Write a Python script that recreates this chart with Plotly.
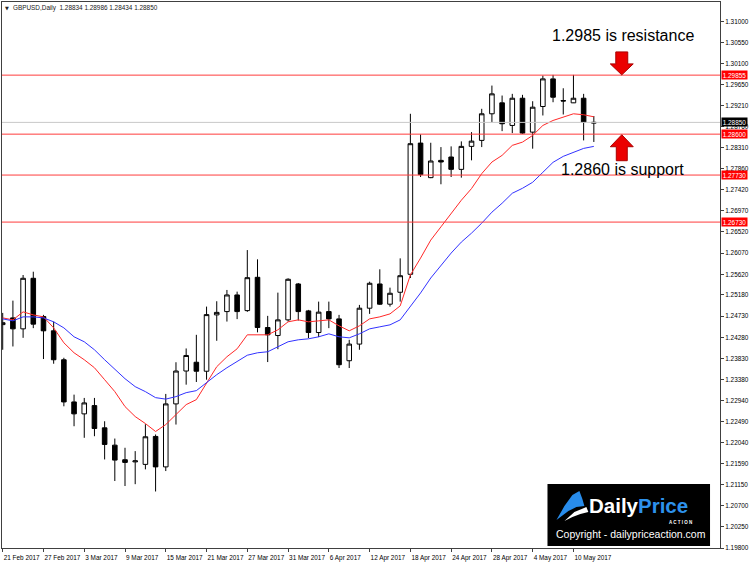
import plotly.graph_objects as go

# ---------------- data ----------------
dates = [
    "2017-02-21", "2017-02-22", "2017-02-23", "2017-02-24", "2017-02-27", "2017-02-28",
    "2017-03-01", "2017-03-02", "2017-03-03", "2017-03-06", "2017-03-07", "2017-03-08",
    "2017-03-09", "2017-03-10", "2017-03-13", "2017-03-14", "2017-03-15", "2017-03-16",
    "2017-03-17", "2017-03-20", "2017-03-21", "2017-03-22", "2017-03-23", "2017-03-24",
    "2017-03-27", "2017-03-28", "2017-03-29", "2017-03-30", "2017-03-31", "2017-04-03",
    "2017-04-04", "2017-04-05", "2017-04-06", "2017-04-07", "2017-04-10", "2017-04-11",
    "2017-04-12", "2017-04-13", "2017-04-14", "2017-04-17", "2017-04-18", "2017-04-19",
    "2017-04-20", "2017-04-21", "2017-04-24", "2017-04-25", "2017-04-26", "2017-04-27",
    "2017-04-28", "2017-05-01", "2017-05-02", "2017-05-03", "2017-05-04", "2017-05-05",
    "2017-05-08", "2017-05-09", "2017-05-10", "2017-05-11", "2017-05-12",
]

opens = [
    1.24550, 1.24693, 1.24460, 1.25535, 1.24721, 1.24418, 1.23803, 1.22906, 1.22652, 1.22828,
    1.22355, 1.21987, 1.21677, 1.21631, 1.21578, 1.22172, 1.21525, 1.22864, 1.23563, 1.23750,
    1.23559, 1.24757, 1.24827, 1.25181, 1.24848, 1.25556, 1.24488, 1.24318, 1.24651, 1.25414,
    1.24842, 1.24382, 1.24827, 1.24672, 1.23782, 1.24136, 1.24899, 1.25414, 1.24984, 1.25238,
    1.25620, 1.28410, 1.27675, 1.28042, 1.28114, 1.27851, 1.28340, 1.28467, 1.29033, 1.29266,
    1.28785, 1.29364, 1.28643, 1.29188, 1.29775, 1.29315, 1.29266, 1.29364, 1.28834,
]
highs = [
    1.24799, 1.25060, 1.25605, 1.25675, 1.24757, 1.24615, 1.23845, 1.23061, 1.22991, 1.22991,
    1.22495, 1.22127, 1.21931, 1.21860, 1.22432, 1.22214, 1.23076, 1.23750, 1.24043, 1.24333,
    1.24933, 1.25047, 1.25287, 1.25251, 1.26135, 1.25938, 1.24736, 1.25230, 1.25535, 1.25435,
    1.24863, 1.25039, 1.25039, 1.24757, 1.24227, 1.24969, 1.25463, 1.25726, 1.25336, 1.25959,
    1.29033, 1.28594, 1.28417, 1.28325, 1.28340, 1.28446, 1.28643, 1.29139, 1.29633, 1.29421,
    1.29457, 1.29436, 1.29300, 1.29845, 1.29860, 1.29576, 1.29860, 1.29457, 1.28986,
]
lows = [
    1.24015, 1.24085, 1.24269, 1.24475, 1.23818, 1.23718, 1.22813, 1.22389, 1.22143, 1.22177,
    1.21683, 1.21224, 1.21118, 1.21157, 1.21472, 1.21002, 1.21436, 1.22425, 1.23273, 1.23330,
    1.23379, 1.24206, 1.24615, 1.24667, 1.24821, 1.24385, 1.23754, 1.24027, 1.24615, 1.24636,
    1.24263, 1.24284, 1.24475, 1.23627, 1.23627, 1.24015, 1.24778, 1.24969, 1.24933, 1.25039,
    1.25541, 1.27689, 1.27664, 1.27534, 1.27689, 1.27675, 1.28043, 1.28325, 1.28855, 1.28664,
    1.28622, 1.28605, 1.28291, 1.28997, 1.29279, 1.29018, 1.29262, 1.28467, 1.28434,
]
closes = [
    1.24590, 1.24460, 1.25535, 1.24560, 1.24418, 1.23803, 1.22906, 1.22652, 1.22885, 1.22341,
    1.22002, 1.21669, 1.21620, 1.21652, 1.22165, 1.21525, 1.22864, 1.23563, 1.23894, 1.23559,
    1.24763, 1.24810, 1.25181, 1.24827, 1.25548, 1.24488, 1.24333, 1.24651, 1.25514, 1.24827,
    1.24382, 1.24815, 1.24672, 1.23697, 1.24136, 1.24899, 1.25429, 1.24984, 1.25217, 1.25590,
    1.28397, 1.27740, 1.28029, 1.28008, 1.27851, 1.28340, 1.28452, 1.29033, 1.29457, 1.28821,
    1.29364, 1.28622, 1.29173, 1.29775, 1.29385, 1.29305, 1.29364, 1.28855, 1.28850,
]

# red (fast) and blue (slow) moving averages
ma_fast = [
    1.24693, 1.24651, 1.24821, 1.24757, 1.24715, 1.24481, 1.24163, 1.23951, 1.23803, 1.23633,
    1.23379, 1.23125, 1.22807, 1.22595, 1.22446, 1.22277, 1.22425, 1.22637, 1.22849, 1.22955,
    1.23315, 1.23655, 1.23867, 1.24036, 1.24333, 1.24333, 1.24333, 1.24439, 1.24609, 1.24651,
    1.24609, 1.24630, 1.24651, 1.24524, 1.24418, 1.24524, 1.24672, 1.24715, 1.24778, 1.24948,
    1.25605, 1.25965, 1.26347, 1.26629, 1.26913, 1.27195, 1.27443, 1.27761, 1.28007, 1.28149,
    1.28361, 1.28431, 1.28573, 1.28785, 1.28891, 1.28961, 1.29033, 1.29012, 1.28969,
]
ma_slow = [
    1.24672, 1.24630, 1.24715, 1.24715, 1.24693, 1.24609, 1.24481, 1.24291, 1.24185, 1.24015,
    1.23803, 1.23591, 1.23400, 1.23231, 1.23125, 1.22997, 1.22966, 1.23019, 1.23103, 1.23146,
    1.23315, 1.23485, 1.23633, 1.23761, 1.23899, 1.23951, 1.23973, 1.24079, 1.24185, 1.24227,
    1.24248, 1.24291, 1.24354, 1.24291, 1.24269, 1.24354, 1.24460, 1.24503, 1.24545, 1.24651,
    1.24927, 1.25223, 1.25541, 1.25817, 1.26071, 1.26305, 1.26495, 1.26707, 1.26941, 1.27131,
    1.27343, 1.27449, 1.27577, 1.27789, 1.28001, 1.28128, 1.28213, 1.28297, 1.28340,
]

tick_dates = ["2017-02-21", "2017-02-27", "2017-03-03", "2017-03-09", "2017-03-15",
              "2017-03-21", "2017-03-27", "2017-03-31", "2017-04-06", "2017-04-12",
              "2017-04-18", "2017-04-24", "2017-04-28", "2017-05-04", "2017-05-10"]
tick_labels = ["21 Feb 2017", "27 Feb 2017", "3 Mar 2017", "9 Mar 2017", "15 Mar 2017",
               "21 Mar 2017", "27 Mar 2017", "31 Mar 2017", "6 Apr 2017", "12 Apr 2017",
               "18 Apr 2017", "24 Apr 2017", "28 Apr 2017", "4 May 2017", "10 May 2017"]

y_ticks = [1.31000, 1.30550, 1.30100, 1.29650, 1.29210, 1.28760, 1.28310, 1.27860, 1.27420,
           1.26970, 1.26520, 1.26070, 1.25620, 1.25180, 1.24730, 1.24280, 1.23830, 1.23380,
           1.22940, 1.22490, 1.22040, 1.21590, 1.21150, 1.20700, 1.20250, 1.19800]

red_levels = [1.29855, 1.28600, 1.27730, 1.26730]
last_price = 1.28850

symbol = "GBPUSD,Daily"
resistance_text = "1.2985 is resistance"
support_text = "1.2860 is support"

# ---------------- figure ----------------
W, H = 750, 564
ML, MR, MT, MB = 2, 28, 1, 16
PW, PH = W - ML - MR, H - MT - MB


def px(x):  # pixel -> paper x
    return (x - ML) / PW


def py(y):  # pixel -> paper y
    return (H - MB - y) / PH


FONT = "Liberation Sans, Arial, sans-serif"

fig = go.Figure()

fig.add_trace(go.Candlestick(
    x=dates, open=opens, high=highs, low=lows, close=closes,
    increasing=dict(line=dict(color="black", width=1), fillcolor="white"),
    decreasing=dict(line=dict(color="black", width=1), fillcolor="black"),
    whiskerwidth=0, hoverinfo="skip", showlegend=False,
))
fig.add_trace(go.Scatter(x=dates, y=ma_fast, mode="lines",
                         line=dict(color="rgb(255,40,40)", width=1),
                         hoverinfo="skip", showlegend=False))
fig.add_trace(go.Scatter(x=dates, y=ma_slow, mode="lines",
                         line=dict(color="rgb(50,50,255)", width=1),
                         hoverinfo="skip", showlegend=False))

shapes = []
# current price line (grey)
shapes.append(dict(type="line", xref="paper", x0=0, x1=1, yref="y", y0=last_price, y1=last_price,
                   line=dict(color="#c8c8c8", width=1)))
for lv in red_levels:
    shapes.append(dict(type="line", xref="paper", x0=0, x1=1, yref="y", y0=lv, y1=lv,
                       line=dict(color="rgb(255,60,60)", width=1)))


def path(points):
    return "M " + " L ".join(f"{px(a):.5f},{py(b):.5f}" for a, b in points) + " Z"


cx = 623.5
# down arrow (above resistance)
down = [(cx - 6, 51), (cx + 6, 51), (cx + 6, 63), (cx + 11.5, 63), (cx, 74),
        (cx - 11.5, 63), (cx - 6, 63)]
# up arrow (below support)
up = [(cx, 134), (cx + 11.5, 146), (cx + 5.5, 146), (cx + 5.5, 160), (cx - 5.5, 160),
      (cx - 5.5, 146), (cx - 11.5, 146)]
for pts in (down, up):
    shapes.append(dict(type="path", xref="paper", yref="paper", path=path(pts),
                       fillcolor="rgb(235,0,0)", line=dict(color="rgb(170,0,0)", width=1)))

# logo box
shapes.append(dict(type="rect", xref="paper", yref="paper",
                   x0=px(549), x1=px(712), y0=py(546), y1=py(484),
                   fillcolor="black", line=dict(width=0)))
# logo swoosh
sail = [(558, 520), (566, 506), (574, 495), (581, 491), (584, 499), (586, 506), (578, 507),
        (570, 511)]
shapes.append(dict(type="path", xref="paper", yref="paper", path=path(sail),
                   fillcolor="rgb(40,140,235)", line=dict(width=0)))
wave = [(566, 521), (576, 512), (588, 507), (590, 512), (582, 514), (574, 517)]
shapes.append(dict(type="path", xref="paper", yref="paper", path=path(wave),
                   fillcolor="white", line=dict(width=0)))

annotations = []
# price labels on the right axis
for lv in red_levels:
    annotations.append(dict(xref="paper", x=1, xanchor="left", xshift=1, yref="y", y=lv,
                            text=f"{lv:.5f}", showarrow=False, bgcolor="rgb(255,0,0)",
                            borderpad=0, width=25, height=8,
                            font=dict(family=FONT, size=6.4, color="white")))
annotations.append(dict(xref="paper", x=1, xanchor="left", xshift=1, yref="y", y=last_price,
                        text=f"{last_price:.5f}", showarrow=False, bgcolor="black",
                        borderpad=0, width=25, height=8,
                        font=dict(family=FONT, size=6.4, color="white")))

# header
annotations.append(dict(xref="paper", yref="paper", x=px(3), y=py(7), xanchor="left",
                        yanchor="middle", showarrow=False, text="▼",
                        font=dict(family="DejaVu Sans", size=5, color="#202020")))
annotations.append(dict(xref="paper", yref="paper", x=px(11), y=py(7), xanchor="left",
                        yanchor="middle", showarrow=False,
                        text=f"{symbol}  {opens[-1]:.5f} {highs[-1]:.5f} {lows[-1]:.5f} {closes[-1]:.5f}",
                        font=dict(family=FONT, size=6.4, color="#202020")))

# comments
annotations.append(dict(xref="paper", yref="paper", x=px(552), y=py(35), xanchor="left",
                        yanchor="middle", showarrow=False, text=resistance_text,
                        font=dict(family=FONT, size=16, color="black")))
annotations.append(dict(xref="paper", yref="paper", x=px(561), y=py(169), xanchor="left",
                        yanchor="middle", showarrow=False, text=support_text,
                        font=dict(family=FONT, size=16, color="black")))

# logo texts
annotations.append(dict(xref="paper", yref="paper", x=px(589), y=py(505), xanchor="left",
                        yanchor="middle", showarrow=False,
                        text="<b>Daily<span style='color:rgb(45,145,235)'>Price</span></b>",
                        font=dict(family=FONT, size=20.5, color="white")))
annotations.append(dict(xref="paper", yref="paper", x=px(696), y=py(522), xanchor="right",
                        yanchor="middle", showarrow=False, text="<b>A C T I O N</b>",
                        font=dict(family=FONT, size=4.5, color="white")))
annotations.append(dict(xref="paper", yref="paper", x=px(556), y=py(534), xanchor="left",
                        yanchor="middle", showarrow=False,
                        text="Copyright - dailypriceaction.com",
                        font=dict(family=FONT, size=10.5, color="white")))

bar_px = 10.22
x_lo = -0.07
x_hi = x_lo + PW / bar_px

fig.update_layout(
    width=W, height=H,
    margin=dict(l=ML, r=MR, t=MT, b=MB, pad=0),
    paper_bgcolor="white", plot_bgcolor="white",
    showlegend=False, boxgap=0.36,
    shapes=shapes, annotations=annotations,
    font=dict(family=FONT, size=6.4, color="black"),
    xaxis=dict(type="category", range=[x_lo, x_hi], rangeslider=dict(visible=False),
               tickmode="array", tickvals=tick_dates, ticktext=tick_labels,
               ticks="outside", ticklen=3, tickcolor="#404040", tickangle=0,
               ticklabelposition="outside right", ticklabelstandoff=3,
               tickfont=dict(family=FONT, size=6.4, color="black"),
               showgrid=False, zeroline=False, showline=True, linecolor="#404040",
               linewidth=1, mirror=True, fixedrange=True),
    yaxis=dict(side="right", range=[1.1980, 1.3141], tickmode="array", tickvals=y_ticks,
               ticktext=[f"{v:.5f}" for v in y_ticks], ticks="outside", ticklen=3,
               tickcolor="#404040", tickfont=dict(family=FONT, size=6.4, color="black"),
               showgrid=False, zeroline=False, showline=True, linecolor="#404040",
               linewidth=1, mirror=True, fixedrange=True),
)

fig.write_html("out.html")
